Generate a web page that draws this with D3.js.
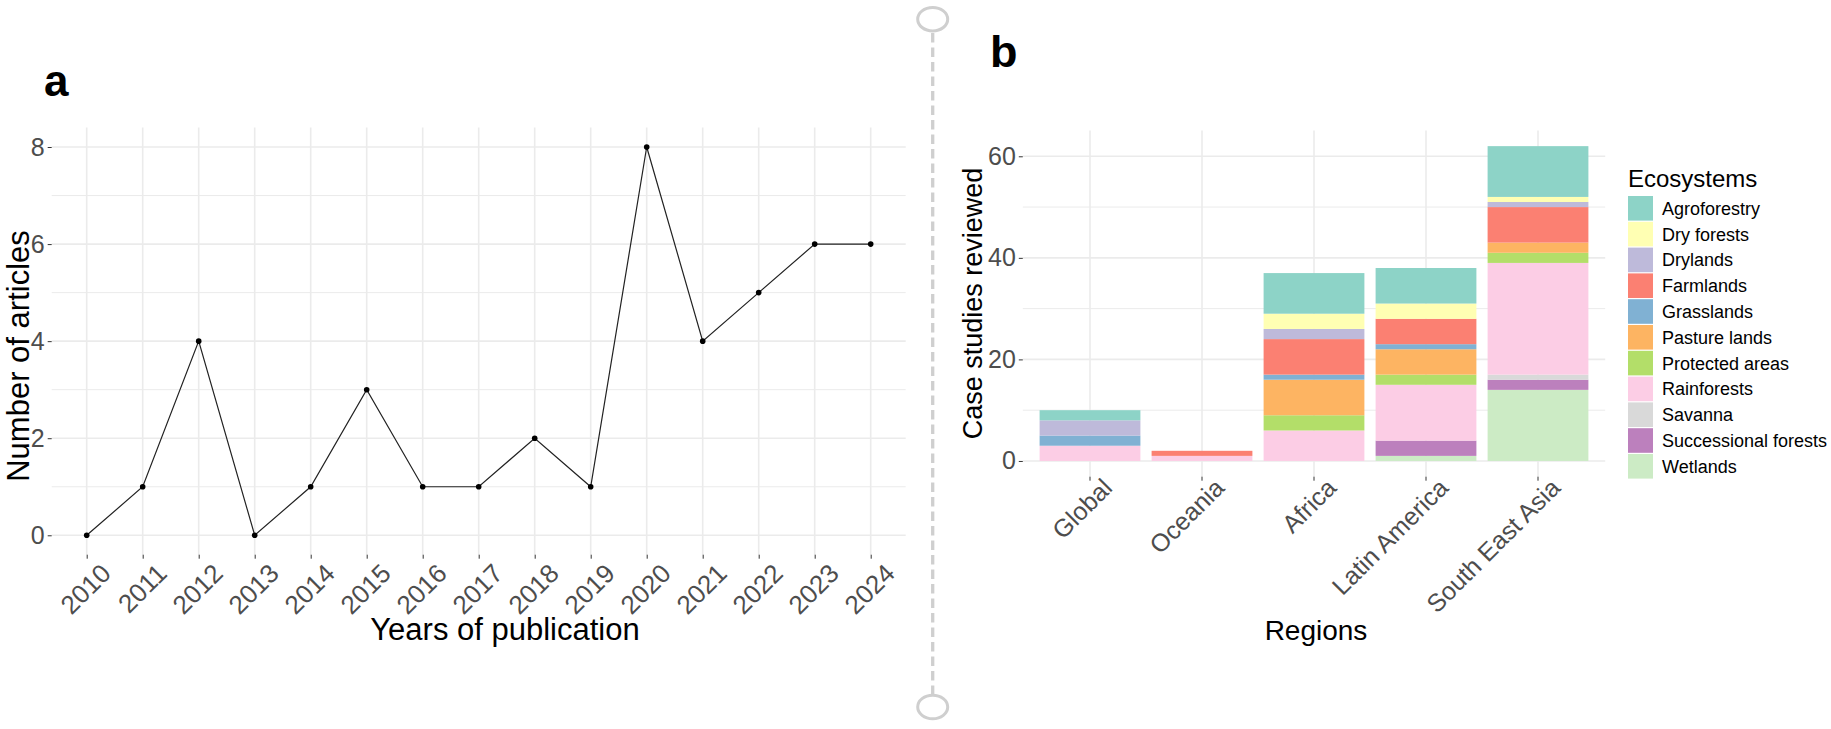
<!DOCTYPE html>
<html>
<head>
<meta charset="utf-8">
<script src="https://cdn.jsdelivr.net/npm/d3@7/dist/d3.min.js"></script>
<style>
  html, body { margin: 0; padding: 0; background: #fff; }
  svg { display: block; font-family: "Liberation Sans", Arial, sans-serif; }
</style>
</head>
<body>
<svg id="chart" width="1831" height="729"></svg>
<script>
// ---------- Data ----------
const years = [2010, 2011, 2012, 2013, 2014, 2015, 2016, 2017, 2018, 2019, 2020, 2021, 2022, 2023, 2024];
const articles = [0, 1, 4, 0, 1, 3, 1, 1, 2, 1, 8, 4, 5, 6, 6];
const articleTicks = [0, 2, 4, 6, 8];

const regions = ["Global", "Oceania", "Africa", "Latin America", "South East Asia"];
const ecosystems = ["Agroforestry", "Dry forests", "Drylands", "Farmlands", "Grasslands",
  "Pasture lands", "Protected areas", "Rainforests", "Savanna", "Successional forests", "Wetlands"];
const ecoColors = ["#8DD3C7", "#FFFFB3", "#BEBADA", "#FB8072", "#80B1D3",
  "#FDB462", "#B3DE69", "#FCCDE5", "#D9D9D9", "#BC80BD", "#CCEBC5"];
// values per region: Global, Oceania, Africa, Latin America, South East Asia
const agroforestry = [2, 0, 8, 7, 10];
const dryForests = [0, 0, 3, 3, 1];
const drylands = [3, 0, 2, 0, 1];
const farmlands = [0, 1, 7, 5, 7];
const grasslands = [2, 0, 1, 1, 0];
const pastureLands = [0, 0, 7, 5, 2];
const protectedAreas = [0, 0, 3, 2, 2];
const rainforests = [3, 1, 6, 11, 22];
const savanna = [0, 0, 0, 0, 1];
const successionalForests = [0, 0, 0, 3, 2];
const wetlands = [0, 0, 0, 1, 14];
const caseTicks = [0, 20, 40, 60];

const seriesValues = [agroforestry, dryForests, drylands, farmlands, grasslands,
  pastureLands, protectedAreas, rainforests, savanna, successionalForests, wetlands];

// ---------- Setup ----------
const svg = d3.select("#chart");
const gridCol = "#EBEBEB";
const tickTextCol = "#4D4D4D";
const tickCol = "#333333";

function styleAxis(g, size) {
  g.select(".domain").remove();
  g.selectAll(".tick line").attr("stroke", tickCol).attr("stroke-width", 1);
  g.selectAll(".tick text").attr("fill", tickTextCol)
    .style("font-size", size + "px").style("font-family", "Liberation Sans, Arial, sans-serif");
}
function rotateLabels(g, dx, dy) {
  g.selectAll(".tick text")
    .attr("x", 0).attr("y", 0).attr("dy", "0.72em")
    .attr("text-anchor", "end")
    .attr("transform", `translate(${dx},${dy}) rotate(-45)`);
}

// ---------- Panel a ----------
const A = { left: 51.7, right: 905.7, top: 127.6, bottom: 554.7 };
const xa = d3.scaleLinear().domain([2009.375, 2024.625]).range([A.left, A.right]);
const ya = d3.scaleLinear().domain([-0.4, 8.4]).range([A.bottom, A.top]);

const ga = svg.append("g");
ga.append("g").selectAll("line").data([1, 3, 5, 7]).join("line")
  .attr("x1", A.left).attr("x2", A.right)
  .attr("y1", d => ya(d)).attr("y2", d => ya(d))
  .attr("stroke", gridCol).attr("stroke-width", 1);
ga.append("g").selectAll("line").data(articleTicks).join("line")
  .attr("x1", A.left).attr("x2", A.right)
  .attr("y1", d => ya(d)).attr("y2", d => ya(d))
  .attr("stroke", gridCol).attr("stroke-width", 1.6);
ga.append("g").selectAll("line").data(years).join("line")
  .attr("x1", d => xa(d)).attr("x2", d => xa(d))
  .attr("y1", A.top).attr("y2", A.bottom)
  .attr("stroke", gridCol).attr("stroke-width", 1.6);

const line = d3.line().x((d, i) => xa(years[i])).y(d => ya(d));
ga.append("path").datum(articles)
  .attr("d", line).attr("fill", "none")
  .attr("stroke", "#222").attr("stroke-width", 1.2);
ga.append("g").selectAll("circle").data(articles).join("circle")
  .attr("cx", (d, i) => xa(years[i])).attr("cy", d => ya(d))
  .attr("r", 2.8).attr("fill", "#000");

const yAxisA = ga.append("g").attr("transform", `translate(${A.left},0)`)
  .call(d3.axisLeft(ya).tickValues(articleTicks).tickSize(4).tickPadding(3));
const xAxisA = ga.append("g").attr("transform", `translate(0,${A.bottom})`)
  .call(d3.axisBottom(xa).tickValues(years).tickFormat(d3.format("d")).tickSize(4));
styleAxis(yAxisA, 25);
styleAxis(xAxisA, 26);
rotateLabels(xAxisA, 12, 7);

ga.append("text").attr("x", 505).attr("y", 640)
  .attr("text-anchor", "middle").style("font-size", "31px").attr("fill", "#000")
  .text("Years of publication");
ga.append("text").attr("transform", `translate(29,356) rotate(-90)`)
  .attr("text-anchor", "middle").style("font-size", "31px").attr("fill", "#000")
  .text("Number of articles");
svg.append("text").attr("x", 44).attr("y", 96)
  .style("font-size", "44px").style("font-weight", "bold").attr("fill", "#000").text("a");

// ---------- Panel b ----------
const B = { left: 1022.8, right: 1605.2, top: 130.4, bottom: 476.7 };
const xb = d3.scaleBand().domain(regions).range([B.left, B.right]).paddingInner(0.1).paddingOuter(0.15);
const yb = d3.scaleLinear().domain([-3.1, 65.1]).range([B.bottom, B.top]);

const gb = svg.append("g");
gb.append("g").selectAll("line").data([10, 30, 50]).join("line")
  .attr("x1", B.left).attr("x2", B.right)
  .attr("y1", d => yb(d)).attr("y2", d => yb(d))
  .attr("stroke", gridCol).attr("stroke-width", 1);
gb.append("g").selectAll("line").data(caseTicks).join("line")
  .attr("x1", B.left).attr("x2", B.right)
  .attr("y1", d => yb(d)).attr("y2", d => yb(d))
  .attr("stroke", gridCol).attr("stroke-width", 1.6);
gb.append("g").selectAll("line").data(regions).join("line")
  .attr("x1", d => xb(d) + xb.bandwidth() / 2).attr("x2", d => xb(d) + xb.bandwidth() / 2)
  .attr("y1", B.top).attr("y2", B.bottom)
  .attr("stroke", gridCol).attr("stroke-width", 1.6);

const table = regions.map((r, i) => {
  const row = { region: r };
  ecosystems.forEach((e, k) => { row[e] = seriesValues[k][i]; });
  return row;
});
const stack = d3.stack().keys(ecosystems.slice().reverse());
const stacked = stack(table);
const colorOf = d3.scaleOrdinal().domain(ecosystems).range(ecoColors);
gb.append("g").selectAll("g").data(stacked).join("g")
  .attr("fill", d => colorOf(d.key))
  .selectAll("rect").data(d => d.filter(s => s[1] > s[0])).join("rect")
  .attr("x", d => xb(d.data.region))
  .attr("width", xb.bandwidth())
  .attr("y", d => yb(d[1]))
  .attr("height", d => yb(d[0]) - yb(d[1]));

const yAxisB = gb.append("g").attr("transform", `translate(${B.left},0)`)
  .call(d3.axisLeft(yb).tickValues(caseTicks).tickSize(4).tickPadding(3));
const xAxisB = gb.append("g").attr("transform", `translate(0,${B.bottom})`)
  .call(d3.axisBottom(xb).tickSize(4));
styleAxis(yAxisB, 25);
styleAxis(xAxisB, 25);
rotateLabels(xAxisB, 11, 0);

gb.append("text").attr("x", 1316).attr("y", 640)
  .attr("text-anchor", "middle").style("font-size", "28px").attr("fill", "#000")
  .text("Regions");
gb.append("text").attr("transform", `translate(982,${(B.top + B.bottom) / 2}) rotate(-90)`)
  .attr("text-anchor", "middle").style("font-size", "27px").attr("fill", "#000")
  .text("Case studies reviewed");
svg.append("text").attr("x", 990).attr("y", 67)
  .style("font-size", "45px").style("font-weight", "bold").attr("fill", "#000").text("b");

// legend
const lg = svg.append("g").attr("transform", "translate(1628,0)");
lg.append("text").attr("x", 0).attr("y", 187).style("font-size", "24px").attr("fill", "#000")
  .text("Ecosystems");
const keyStep = 25.8, keyTop = 196, keyW = 25, keyH = 24.6;
const items = lg.selectAll("g.item").data(ecosystems).join("g").attr("class", "item")
  .attr("transform", (d, i) => `translate(0,${keyTop + i * keyStep})`);
items.append("rect").attr("width", keyW).attr("height", keyH).attr("fill", d => colorOf(d));
items.append("text").attr("x", 34).attr("y", keyH / 2).attr("dy", "0.36em")
  .style("font-size", "18px").attr("fill", "#000").text(d => d);

// ---------- Divider ----------
const dv = svg.append("g");
const divX = 932.7;
dv.append("line").attr("x1", divX).attr("x2", divX).attr("y1", 33).attr("y2", 694)
  .attr("stroke", "#CFCFCF").attr("stroke-width", 3.3).attr("stroke-dasharray", "9.5,5");
dv.append("ellipse").attr("cx", divX).attr("cy", 19.2).attr("rx", 15).attr("ry", 11.8)
  .attr("fill", "#fff").attr("stroke", "#CFCFCF").attr("stroke-width", 3);
dv.append("ellipse").attr("cx", divX).attr("cy", 707).attr("rx", 15).attr("ry", 11.8)
  .attr("fill", "#fff").attr("stroke", "#CFCFCF").attr("stroke-width", 3);
</script>
</body>
</html>
